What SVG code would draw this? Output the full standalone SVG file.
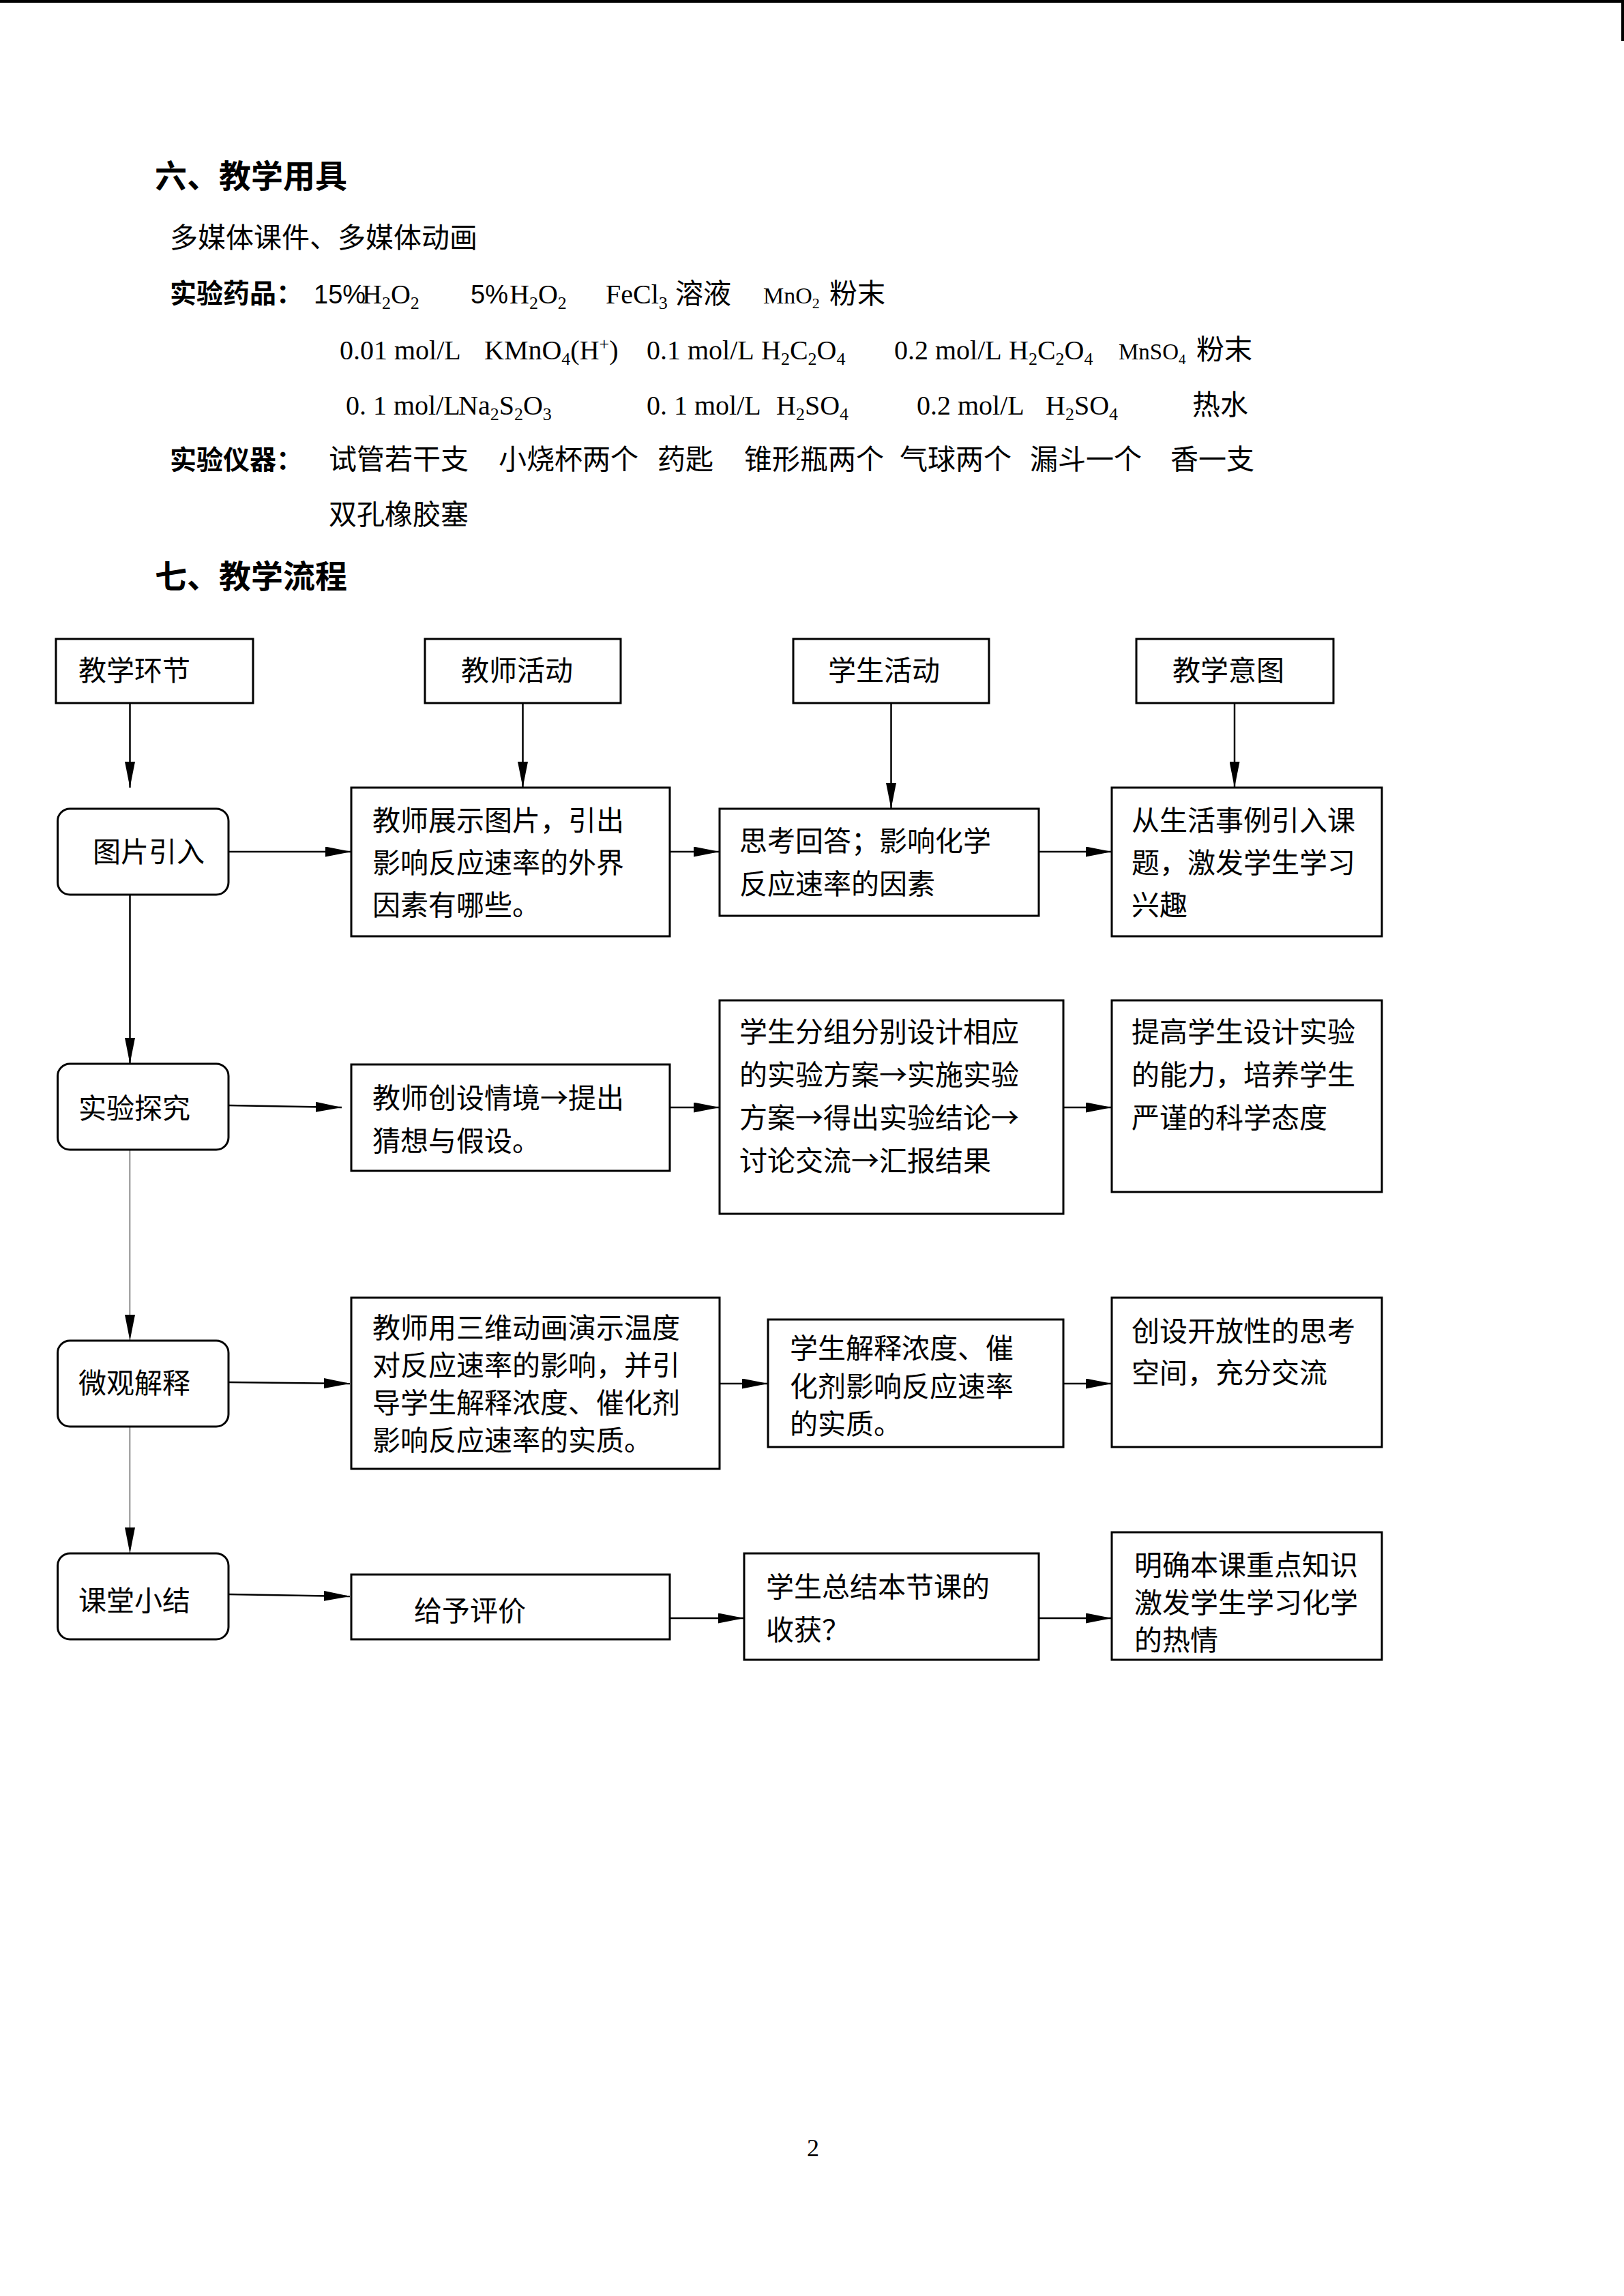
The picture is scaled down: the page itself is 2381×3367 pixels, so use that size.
<svg xmlns="http://www.w3.org/2000/svg" width="2381" height="3367" viewBox="0 0 2381 3367">
<style>
.cjk{font-family:"Noto Sans CJK SC","Noto Sans",sans-serif;font-size:41px;fill:#000}
.h{font-family:"Noto Sans CJK SC",sans-serif;font-size:47px;font-weight:bold;fill:#000}
.b{font-family:"Noto Sans CJK SC",sans-serif;font-size:39px;font-weight:bold;fill:#000}
.chem{font-family:"Liberation Serif","Noto Sans CJK SC",serif;font-size:40px;fill:#000}
.pct{font-family:"Liberation Sans",sans-serif;font-size:38px;fill:#000}
.sub{font-size:26px}
.box{fill:#fff;stroke:#000;stroke-width:3}
.conn{fill:none;stroke:#000;stroke-width:2.5}
.thin{fill:none;stroke:#222;stroke-width:1.2}
</style>
<defs>
<marker id="ah" markerUnits="userSpaceOnUse" markerWidth="38" markerHeight="15" refX="38" refY="7.5" orient="auto">
<path d="M0,0 L38,7.5 L0,15 z" fill="#000"/>
</marker>
</defs>
<rect x="0" y="0" width="2381" height="4" fill="#000"/>
<rect x="2377" y="0" width="4" height="60" fill="#000"/>

<g id="page-text">
<text class="h" x="227" y="275">六、教学用具</text>
<text class="cjk" x="249" y="363">多媒体课件、多媒体动画</text>
<text class="b" x="249" y="444">实验药品：</text>
<text class="pct" x="460" y="445">15%</text>
<text class="chem" x="531" y="445">H<tspan class="sub" dy="8">2</tspan><tspan dy="-8">O</tspan><tspan class="sub" dy="8">2</tspan></text>
<text class="pct" x="690" y="445">5%</text>
<text class="chem" x="747" y="445">H<tspan class="sub" dy="8">2</tspan><tspan dy="-8">O</tspan><tspan class="sub" dy="8">2</tspan></text>
<text class="chem" x="888" y="445">FeCl<tspan class="sub" dy="8">3</tspan></text>
<text class="cjk" x="990" y="445">溶液</text>
<text class="chem" x="1119" y="445" style="font-size:34px">MnO<tspan style="font-size:22px" dy="7">2</tspan></text>
<text class="cjk" x="1216" y="445">粉末</text>

<text class="chem" x="498" y="527">0.01 mol/L</text>
<text class="chem" x="710" y="527">KMnO<tspan class="sub" dy="8">4</tspan><tspan dy="-8">(H</tspan><tspan class="sub" dy="-14">+</tspan><tspan dy="14">)</tspan></text>
<text class="chem" x="948" y="527">0.1 mol/L</text>
<text class="chem" x="1116" y="527">H<tspan class="sub" dy="8">2</tspan><tspan dy="-8">C</tspan><tspan class="sub" dy="8">2</tspan><tspan dy="-8">O</tspan><tspan class="sub" dy="8">4</tspan></text>
<text class="chem" x="1311" y="527">0.2 mol/L</text>
<text class="chem" x="1479" y="527">H<tspan class="sub" dy="8">2</tspan><tspan dy="-8">C</tspan><tspan class="sub" dy="8">2</tspan><tspan dy="-8">O</tspan><tspan class="sub" dy="8">4</tspan></text>
<text class="chem" x="1640" y="527" style="font-size:33px">MnSO<tspan style="font-size:21px" dy="7">4</tspan></text>
<text class="cjk" x="1754" y="527">粉末</text>

<text class="chem" x="507" y="608">0. 1 mol/L</text>
<text class="chem" x="672" y="608">Na<tspan class="sub" dy="8">2</tspan><tspan dy="-8">S</tspan><tspan class="sub" dy="8">2</tspan><tspan dy="-8">O</tspan><tspan class="sub" dy="8">3</tspan></text>
<text class="chem" x="948" y="608">0. 1 mol/L</text>
<text class="chem" x="1138" y="608">H<tspan class="sub" dy="8">2</tspan><tspan dy="-8">SO</tspan><tspan class="sub" dy="8">4</tspan></text>
<text class="chem" x="1344" y="608">0.2 mol/L</text>
<text class="chem" x="1533" y="608">H<tspan class="sub" dy="8">2</tspan><tspan dy="-8">SO</tspan><tspan class="sub" dy="8">4</tspan></text>
<text class="cjk" x="1748" y="608">热水</text>

<text class="b" x="249" y="688">实验仪器：</text>
<text class="cjk" x="482" y="688">试管若干支</text>
<text class="cjk" x="731" y="688">小烧杯两个</text>
<text class="cjk" x="964" y="688">药匙</text>
<text class="cjk" x="1091" y="688">锥形瓶两个</text>
<text class="cjk" x="1319" y="688">气球两个</text>
<text class="cjk" x="1510" y="688">漏斗一个</text>
<text class="cjk" x="1716" y="688">香一支</text>
<text class="cjk" x="482" y="769">双孔橡胶塞</text>
<text class="h" x="227" y="862">七、教学流程</text>
<text x="1183" y="3162" style="font-family:'Liberation Serif',serif;font-size:36px">2</text>
</g>

<g id="connectors">
<line class="conn" x1="190.5" y1="1031" x2="190.5" y2="1155" marker-end="url(#ah)"/>
<line class="conn" x1="766.5" y1="1031" x2="766.5" y2="1155" marker-end="url(#ah)"/>
<line class="conn" x1="1306.5" y1="1031" x2="1306.5" y2="1186" marker-end="url(#ah)"/>
<line class="conn" x1="1810" y1="1031" x2="1810" y2="1155" marker-end="url(#ah)"/>
<line class="conn" x1="190.5" y1="1312" x2="190.5" y2="1560" marker-end="url(#ah)"/>
<line class="thin" x1="190.5" y1="1686" x2="190.5" y2="1966" marker-end="url(#ah)"/>
<line class="thin" x1="190.5" y1="2092" x2="190.5" y2="2278" marker-end="url(#ah)"/>
<line class="conn" x1="335" y1="1249" x2="515" y2="1249" marker-end="url(#ah)"/>
<line class="conn" x1="982" y1="1249" x2="1055" y2="1249" marker-end="url(#ah)"/>
<line class="conn" x1="1523" y1="1249" x2="1630" y2="1249" marker-end="url(#ah)"/>
<line class="conn" x1="335" y1="1621" x2="501" y2="1624" marker-end="url(#ah)"/>
<line class="conn" x1="982" y1="1624" x2="1055" y2="1624" marker-end="url(#ah)"/>
<line class="conn" x1="1559" y1="1624" x2="1630" y2="1624" marker-end="url(#ah)"/>
<line class="conn" x1="335" y1="2027" x2="513" y2="2029" marker-end="url(#ah)"/>
<line class="conn" x1="1055" y1="2029" x2="1126" y2="2029" marker-end="url(#ah)"/>
<line class="conn" x1="1559" y1="2029" x2="1630" y2="2029" marker-end="url(#ah)"/>
<line class="conn" x1="335" y1="2338" x2="513" y2="2341" marker-end="url(#ah)"/>
<line class="conn" x1="982" y1="2373" x2="1091" y2="2373" marker-end="url(#ah)"/>
<line class="conn" x1="1523" y1="2373" x2="1630" y2="2373" marker-end="url(#ah)"/>
</g>

<g id="h-stage"><rect class="box" x="82" y="937" width="289" height="94"/><text class="cjk" x="115" y="998">教学环节</text></g>
<g id="h-teacher"><rect class="box" x="623" y="937" width="287" height="94"/><text class="cjk" x="676" y="998">教师活动</text></g>
<g id="h-student"><rect class="box" x="1163" y="937" width="287" height="94"/><text class="cjk" x="1214" y="998">学生活动</text></g>
<g id="h-intent"><rect class="box" x="1666" y="937" width="289" height="94"/><text class="cjk" x="1719" y="998">教学意图</text></g>

<g id="s1"><rect class="box" x="84.5" y="1186" width="250.5" height="126" rx="18"/><text class="cjk" x="136" y="1264">图片引入</text></g>
<g id="t1"><rect class="box" x="515" y="1155" width="467" height="218"/><text class="cjk" x="546" y="1218">教师展示图片，引出</text><text class="cjk" x="546" y="1280">影响反应速率的外界</text><text class="cjk" x="546" y="1342">因素有哪些。</text></g>
<g id="p1"><rect class="box" x="1055" y="1186" width="468" height="157"/><text class="cjk" x="1084" y="1248">思考回答；影响化学</text><text class="cjk" x="1084" y="1311">反应速率的因素</text></g>
<g id="i1"><rect class="box" x="1630" y="1155" width="396" height="218"/><text class="cjk" x="1659" y="1218">从生活事例引入课</text><text class="cjk" x="1659" y="1280">题，激发学生学习</text><text class="cjk" x="1659" y="1342">兴趣</text></g>

<g id="s2"><rect class="box" x="84.5" y="1560" width="250.5" height="126" rx="18"/><text class="cjk" x="115" y="1640">实验探究</text></g>
<g id="t2"><rect class="box" x="515" y="1561" width="467" height="156"/><text class="cjk" x="546" y="1625">教师创设情境→提出</text><text class="cjk" x="546" y="1688">猜想与假设。</text></g>
<g id="p2"><rect class="box" x="1055" y="1467" width="504" height="313"/><text class="cjk" x="1084" y="1528">学生分组分别设计相应</text><text class="cjk" x="1084" y="1591">的实验方案→实施实验</text><text class="cjk" x="1084" y="1654">方案→得出实验结论→</text><text class="cjk" x="1084" y="1717">讨论交流→汇报结果</text></g>
<g id="i2"><rect class="box" x="1630" y="1467" width="396" height="281"/><text class="cjk" x="1659" y="1528">提高学生设计实验</text><text class="cjk" x="1659" y="1591">的能力，培养学生</text><text class="cjk" x="1659" y="1654">严谨的科学态度</text></g>

<g id="s3"><rect class="box" x="84.5" y="1966" width="250.5" height="126" rx="18"/><text class="cjk" x="115" y="2043">微观解释</text></g>
<g id="t3"><rect class="box" x="515" y="1903" width="540" height="251"/><text class="cjk" x="546" y="1962">教师用三维动画演示温度</text><text class="cjk" x="546" y="2017">对反应速率的影响，并引</text><text class="cjk" x="546" y="2072">导学生解释浓度、催化剂</text><text class="cjk" x="546" y="2127">影响反应速率的实质。</text></g>
<g id="p3"><rect class="box" x="1126" y="1935" width="433" height="187"/><text class="cjk" x="1158" y="1992">学生解释浓度、催</text><text class="cjk" x="1158" y="2048">化剂影响反应速率</text><text class="cjk" x="1158" y="2103">的实质。</text></g>
<g id="i3"><rect class="box" x="1630" y="1903" width="396" height="219"/><text class="cjk" x="1659" y="1967">创设开放性的思考</text><text class="cjk" x="1659" y="2028">空间，充分交流</text></g>

<g id="s4"><rect class="box" x="84.5" y="2278" width="250.5" height="126" rx="18"/><text class="cjk" x="115" y="2362">课堂小结</text></g>
<g id="t4"><rect class="box" x="515" y="2309" width="467" height="95"/><text class="cjk" x="607" y="2377">给予评价</text></g>
<g id="p4"><rect class="box" x="1091" y="2278" width="432" height="156"/><text class="cjk" x="1123" y="2342">学生总结本节课的</text><text class="cjk" x="1123" y="2405">收获？</text></g>
<g id="i4"><rect class="box" x="1630" y="2247" width="396" height="187"/><text class="cjk" x="1663" y="2310">明确本课重点知识</text><text class="cjk" x="1663" y="2365">激发学生学习化学</text><text class="cjk" x="1663" y="2420">的热情</text></g>
</svg>
